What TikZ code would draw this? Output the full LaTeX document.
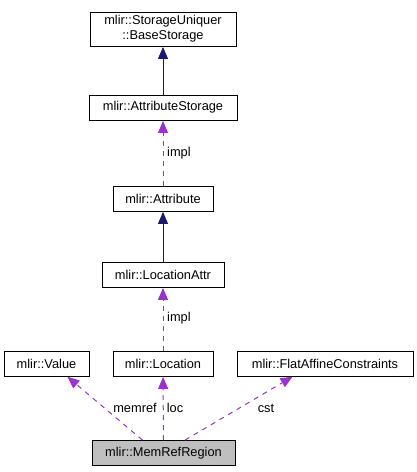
\documentclass[tikz,border=0pt]{standalone}
\usepackage{fontspec}
\setmainfont{Liberation Sans}
\usetikzlibrary{arrows.meta}
\definecolor{navyedge}{HTML}{191970}
\definecolor{purpedge}{HTML}{9A32CD}
\definecolor{grayfill}{HTML}{BFBFBF}
\tikzset{
  cls/.style={draw=black, line width=0.8pt, fill=white, font=\fontsize{12.8}{15}\selectfont, inner sep=0pt, minimum height=25pt, align=center},
  inherit/.style={draw=navyedge, line width=1pt, -{Triangle[length=12pt,width=10pt]}, shorten >=0.5pt},
  usage/.style={draw=purpedge, line width=1pt, dash pattern=on 5pt off 5pt, -{Triangle[length=12pt,width=10pt]}, shorten >=0.5pt},
  lbl/.style={font=\fontsize{12.8}{15}\selectfont, inner sep=1pt}
}
\begin{document}
\begin{tikzpicture}[x=1pt,y=-1pt]
\useasboundingbox (0,0) rectangle (417,472);
\node[cls, minimum width=146pt, minimum height=34pt] (su) at (163,29) {mlir::StorageUniquer\\::BaseStorage};
\node[cls, minimum width=148pt] (as) at (163,107.5) {mlir::AttributeStorage};
\node[cls, minimum width=100pt] (at) at (163,198.5) {mlir::Attribute};
\node[cls, minimum width=122pt] (la) at (163,274.5) {mlir::LocationAttr};
\node[cls, minimum width=85pt] (val) at (46.5,363.5) {mlir::Value};
\node[cls, minimum width=100pt] (loc) at (163,363.5) {mlir::Location};
\node[cls, minimum width=176pt] (fac) at (325,363.5) {mlir::FlatAffineConstraints};
\node[cls, fill=grayfill, minimum width=143pt] (mrr) at (163.5,453) {mlir::MemRefRegion};

\draw[inherit] (as) -- (su);
\draw[usage] (at) -- (as);
\draw[inherit] (la) -- (at);
\draw[usage] (loc) -- (la);
\draw[usage] ([xshift=-21pt]mrr.north) -- ([xshift=20.5pt]val.south);
\draw[usage] (mrr) -- (loc);
\draw[usage] ([xshift=21.5pt]mrr.north) -- ([xshift=-32pt]fac.south);

\node[lbl, anchor=west] (l1) at (166,153) {impl};
\node[lbl, anchor=west] (l2) at (166,318) {impl};
\node[lbl] (l3) at (135,408) {memref};
\node[lbl] (l4) at (175,408) {loc};
\node[lbl] (l5) at (266,408) {cst};
\end{tikzpicture}
\end{document}
